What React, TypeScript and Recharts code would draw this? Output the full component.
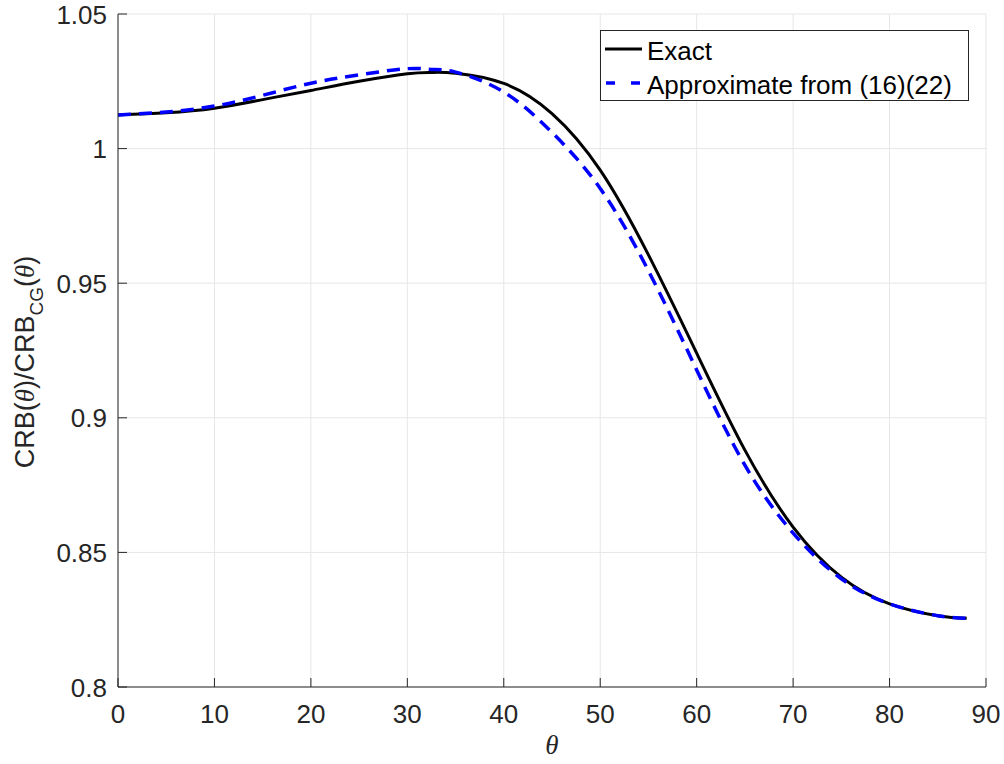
import { LineChart, Line, XAxis, YAxis, CartesianGrid } from 'recharts';

const theta = [0, 5, 10, 15, 20, 25, 30, 32.5, 35, 40, 45, 50, 55, 60, 65, 70, 75, 80, 85, 88];
const exact = [1.0125, 1.0133, 1.015, 1.0182, 1.0216, 1.025, 1.0278, 1.0283, 1.028, 1.0242, 1.013, 0.992, 0.9605, 0.924, 0.888, 0.8594, 0.8408, 0.8309, 0.8265, 0.8255];
const approx = [1.0125, 1.0136, 1.0158, 1.0198, 1.0243, 1.0274, 1.0297, 1.0294, 1.0284, 1.021, 1.006, 0.9852, 0.9546, 0.9178, 0.8824, 0.8572, 0.8402, 0.8309, 0.8265, 0.8255];

const xTicks = [0, 10, 20, 30, 40, 50, 60, 70, 80, 90];
const yTicks = [0.8, 0.85, 0.9, 0.95, 1, 1.05];

const seriesNames = ['Exact', 'Approximate from (16)(22)'];

const data = theta.map((t, i) => ({ theta: t, exact: exact[i], approx: approx[i] }));

const AXIS = '#262626';
const SANS = '"Liberation Sans", Arial, Helvetica, sans-serif';
const SERIF = '"Liberation Serif", "Times New Roman", serif';

function XTick({ x, y, payload }: any) {
  return (
    <g>
      <line x1={x} y1={y} x2={x} y2={y - 9} stroke={AXIS} strokeWidth={1} />
      <text x={x} y={y + 36} textAnchor="middle" fontSize={26} fontFamily={SANS} fill={AXIS}>
        {String(payload.value)}
      </text>
    </g>
  );
}

function YTick({ x, y, payload }: any) {
  return (
    <g>
      <line x1={x} y1={y} x2={x + 9} y2={y} stroke={AXIS} strokeWidth={1} />
      <text x={x - 11} y={y + 9.5} textAnchor="end" fontSize={26} fontFamily={SANS} fill={AXIS}>
        {String(payload.value)}
      </text>
    </g>
  );
}

export default function App() {
  return (
    <div style={{ position: 'absolute', left: 0, top: 0, width: 1004, height: 764, background: '#fff' }}>
      <LineChart
        width={1004}
        height={764}
        data={data}
        margin={{ top: 14, right: 18, left: 0, bottom: 0 }}
      >
        <CartesianGrid stroke="#e6e6e6" strokeWidth={1} />
        <XAxis
          dataKey="theta"
          type="number"
          domain={[0, 90]}
          ticks={xTicks}
          height={77}
          tickSize={0}
          tickMargin={0}
          tickLine={false}
          axisLine={{ stroke: AXIS, strokeWidth: 1 }}
          tick={<XTick />}
          interval={0}
        />
        <YAxis
          type="number"
          domain={[0.8, 1.05]}
          ticks={yTicks}
          width={118}
          tickSize={0}
          tickMargin={0}
          tickLine={false}
          axisLine={{ stroke: AXIS, strokeWidth: 1 }}
          tick={<YTick />}
          interval={0}
          allowDataOverflow
        />
        <Line
          type="natural"
          dataKey="exact"
          name={seriesNames[0]}
          stroke="#000000"
          strokeWidth={3}
          dot={false}
          isAnimationActive={false}
        />
        <Line
          type="natural"
          dataKey="approx"
          name={seriesNames[1]}
          stroke="#0000ff"
          strokeWidth={3.5}
          strokeDasharray="13 8"
          dot={false}
          isAnimationActive={false}
        />
      </LineChart>

      {/* axis labels */}
      <svg width={1004} height={764} style={{ position: 'absolute', left: 0, top: 0, pointerEvents: 'none' }}>
        <text x={552} y={754} textAnchor="middle" fontSize={27} fontFamily={SERIF} fontStyle="italic" fill={AXIS}>
          θ
        </text>
        <text
          transform="translate(34, 362) rotate(-90)"
          textAnchor="middle"
          fontSize={27}
          fontFamily={SANS}
          fill={AXIS}
        >
          CRB(
          <tspan fontFamily={SERIF} fontStyle="italic">θ</tspan>
          )/CRB
          <tspan fontSize={19} dy={9}>CG</tspan>
          <tspan dy={-9}>(</tspan>
          <tspan fontFamily={SERIF} fontStyle="italic">θ</tspan>
          )
        </text>
      </svg>

      {/* legend */}
      <svg width={370} height={72} style={{ position: 'absolute', left: 600, top: 30 }}>
        <rect x={0.5} y={0.5} width={368} height={70} fill="#fff" stroke={AXIS} strokeWidth={1} />
        <line x1={5} y1={19} x2={42} y2={19} stroke="#000" strokeWidth={3} />
        <text x={47} y={30} fontSize={26} fontFamily={SANS} fill="#000">{seriesNames[0]}</text>
        <line x1={5} y1={53} x2={42} y2={53} stroke="#0000ff" strokeWidth={3.5} strokeDasharray="9 16" strokeDashoffset={-1} />
        <text x={47} y={64} fontSize={26} fontFamily={SANS} fill="#000">{seriesNames[1]}</text>
      </svg>
    </div>
  );
}
